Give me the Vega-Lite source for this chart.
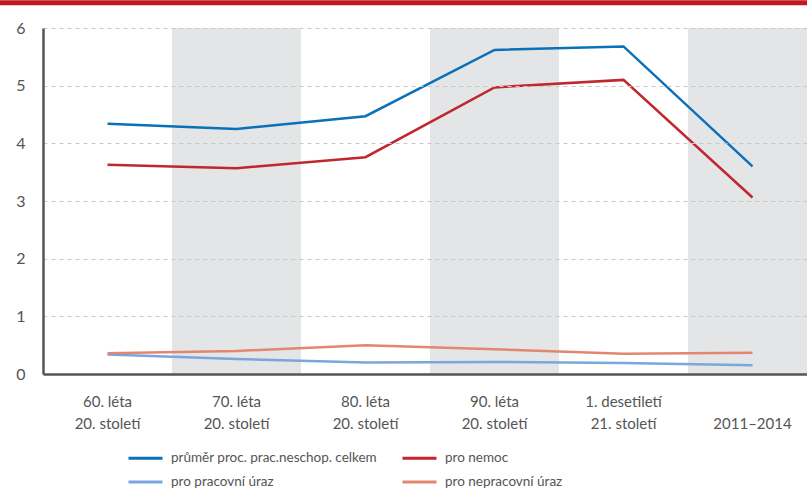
{
  "$schema": "https://vega.github.io/schema/vega-lite/v6.json",
  "width": 764,
  "height": 346,
  "autosize": {"type": "none"},
  "padding": {"left": 43, "top": 28, "right": 0, "bottom": 117},
  "background": "white",
  "config": {"view": {"stroke": null}, "font": "Lato"},
  "datasets": {
    "series": [
      {"period": "60. léta|20. století", "series": "průměr proc. prac.neschop. celkem", "value": 4.34},
      {"period": "70. léta|20. století", "series": "průměr proc. prac.neschop. celkem", "value": 4.25},
      {"period": "80. léta|20. století", "series": "průměr proc. prac.neschop. celkem", "value": 4.47},
      {"period": "90. léta|20. století", "series": "průměr proc. prac.neschop. celkem", "value": 5.62},
      {"period": "1. desetiletí|21. století", "series": "průměr proc. prac.neschop. celkem", "value": 5.68},
      {"period": "|2011–2014", "series": "průměr proc. prac.neschop. celkem", "value": 3.60},
      {"period": "60. léta|20. století", "series": "pro nemoc", "value": 3.63},
      {"period": "70. léta|20. století", "series": "pro nemoc", "value": 3.57},
      {"period": "80. léta|20. století", "series": "pro nemoc", "value": 3.76},
      {"period": "90. léta|20. století", "series": "pro nemoc", "value": 4.97},
      {"period": "1. desetiletí|21. století", "series": "pro nemoc", "value": 5.10},
      {"period": "|2011–2014", "series": "pro nemoc", "value": 3.06},
      {"period": "60. léta|20. století", "series": "pro pracovní úraz", "value": 0.34},
      {"period": "70. léta|20. století", "series": "pro pracovní úraz", "value": 0.26},
      {"period": "80. léta|20. století", "series": "pro pracovní úraz", "value": 0.20},
      {"period": "90. léta|20. století", "series": "pro pracovní úraz", "value": 0.21},
      {"period": "1. desetiletí|21. století", "series": "pro pracovní úraz", "value": 0.19},
      {"period": "|2011–2014", "series": "pro pracovní úraz", "value": 0.15},
      {"period": "60. léta|20. století", "series": "pro nepracovní úraz", "value": 0.36},
      {"period": "70. léta|20. století", "series": "pro nepracovní úraz", "value": 0.40},
      {"period": "80. léta|20. století", "series": "pro nepracovní úraz", "value": 0.50},
      {"period": "90. léta|20. století", "series": "pro nepracovní úraz", "value": 0.43},
      {"period": "1. desetiletí|21. století", "series": "pro nepracovní úraz", "value": 0.35},
      {"period": "|2011–2014", "series": "pro nepracovní úraz", "value": 0.37}
    ],
    "bands": [
      {"period": "70. léta|20. století"},
      {"period": "90. léta|20. století"},
      {"period": "|2011–2014"}
    ],
    "banner": [{"from": 0, "to": 1}]
  },
  "resolve": {"scale": {"x": "independent"}},
  "layer": [
    {
      "data": {"name": "bands"},
      "mark": {"type": "rect", "color": "#e4e5e7"},
      "encoding": {
        "x": {
          "field": "period", "type": "nominal", "axis": null,
          "scale": {
            "domain": ["60. léta|20. století", "70. léta|20. století", "80. léta|20. století", "90. léta|20. století", "1. desetiletí|21. století", "|2011–2014"],
            "range": [0, 774], "paddingInner": 0, "paddingOuter": 0
          }
        }
      }
    },
    {
      "data": {"name": "series"},
      "mark": {"type": "line", "strokeWidth": 2.5},
      "encoding": {
        "x": {
          "field": "period", "type": "nominal", "bandPosition": 0.5,
          "scale": {
            "type": "band",
            "domain": ["60. léta|20. století", "70. léta|20. století", "80. léta|20. století", "90. léta|20. století", "1. desetiletí|21. století", "|2011–2014"],
            "range": [0, 774], "paddingInner": 0, "paddingOuter": 0
          },
          "axis": {
            "title": null, "labelAngle": 0, "ticks": false, "grid": false,
            "domainColor": "#555555", "domainWidth": 2.5,
            "labelExpr": "split(datum.label, '|')",
            "labelFontSize": 15, "labelColor": "#555555", "labelPadding": 20,
            "labelLineHeight": 22, "zindex": 1
          }
        },
        "y": {
          "field": "value", "type": "quantitative",
          "scale": {"domain": [0, 6], "nice": false},
          "axis": {
            "title": null, "values": [0, 1, 2, 3, 4, 5, 6], "format": "d", "ticks": false,
            "grid": true, "gridDash": [4, 4], "gridColor": "#c8c8c8", "gridWidth": 1,
            "domainColor": "#555555", "domainWidth": 2.5,
            "labelFontSize": 16, "labelColor": "#555555", "labelPadding": 18, "zindex": 1
          }
        },
        "color": {
          "field": "series", "type": "nominal",
          "scale": {
            "domain": ["průměr proc. prac.neschop. celkem", "pro pracovní úraz", "pro nemoc", "pro nepracovní úraz"],
            "range": ["#0a71b9", "#7ba6dc", "#c1272d", "#e2876f"]
          },
          "legend": {
            "title": null, "orient": "none", "legendX": 92.5, "legendY": 420,
            "columns": 2, "symbolType": "M-2,0H2", "symbolSize": 289, "symbolStrokeWidth": 3,
            "labelFontSize": 13.5, "labelColor": "#555555", "labelOffset": 15.5, "labelLimit": 400,
            "columnPadding": 19, "rowPadding": 7
          }
        }
      }
    },
    {
      "data": {"name": "banner"},
      "mark": {"type": "rule", "color": "#c1191f", "strokeWidth": 5},
      "encoding": {
        "x": {"field": "from", "type": "quantitative", "axis": null, "scale": {"domain": [0, 1], "range": [-43, 764]}},
        "x2": {"field": "to"},
        "y": {"datum": 6.44, "type": "quantitative", "scale": {"domain": [0, 6], "nice": false}}
      }
    }
  ]
}
